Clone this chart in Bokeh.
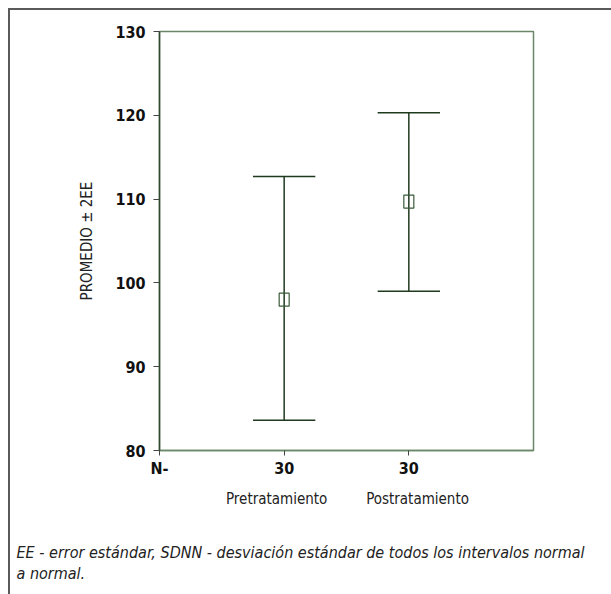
from bokeh.plotting import figure
from bokeh.models import FixedTicker, LinearAxis, Title, Range1d
from bokeh.embed import file_html
from bokeh.resources import INLINE

groups = ["Pretratamiento", "Postratamiento"]
n_values = ["30", "30"]
means = [98.0, 109.7]
upper = [112.7, 120.3]
lower = [83.6, 99.0]
y_ticks = [80, 90, 100, 110, 120, 130]
caption_lines = [
    "EE - error estándar, SDNN - desviación estándar de todos los intervalos normal",
    "a normal.",
]

FONT = "'Liberation Sans Narrow', 'Arial Narrow', 'DejaVu Sans Condensed', sans-serif"
GREEN = "#1f3a1f"
FRAME_BG = ("linear-gradient(#5a5a5a, #5a5a5a) 8px 8px / 2px calc(100% - 8px) no-repeat, "
            "linear-gradient(#5a5a5a, #5a5a5a) 8px 8px / calc(100% - 8px) 2px no-repeat, "
            "#ffffff")

xs = list(range(1, len(groups) + 1))

p = figure(width=611, height=594, output_backend="svg", toolbar_location=None,
           x_range=Range1d(0, len(groups) + 1), y_range=Range1d(80, 130),
           min_border_left=159, min_border_right=78, min_border_top=31,
           min_border_bottom=144)
p.styles = {"background": FRAME_BG}
p.border_fill_color = None
p.background_fill_color = "#ffffff"
p.grid.visible = False
p.outline_line_color = "#6a876a"
p.outline_line_width = 1.5

# error bars
cap = 0.25
p.segment(x0=xs, y0=lower, x1=xs, y1=upper, line_color=GREEN, line_width=1.5)
p.segment(x0=[x - cap for x in xs], y0=upper, x1=[x + cap for x in xs], y1=upper,
          line_color=GREEN, line_width=1.5)
p.segment(x0=[x - cap for x in xs], y0=lower, x1=[x + cap for x in xs], y1=lower,
          line_color=GREEN, line_width=1.5)
p.rect(x=xs, y=means, width=10, height=13, width_units="screen", height_units="screen",
       fill_alpha=0, line_color="#3a5a3a", line_width=1.2)

# y axis
ya = p.yaxis[0]
ya.ticker = FixedTicker(ticks=y_ticks)
ya.minor_tick_line_color = None
ya.major_tick_out = 6
ya.major_tick_in = 0
ya.major_tick_line_color = "#444444"
ya.axis_line_color = "#2f4a2f"
ya.axis_line_width = 1.5
ya.major_label_text_font = FONT
ya.major_label_text_font_style = "bold"
ya.major_label_text_font_size = "16px"
ya.major_label_text_color = "#111111"
ya.major_label_standoff = 8
ya.axis_label = "PROMEDIO ± 2EE"
ya.axis_label_text_font = FONT
ya.axis_label_text_font_style = "normal"
ya.axis_label_text_font_size = "15px"
ya.axis_label_text_color = "#222222"
ya.axis_label_standoff = 16

# x axis: N row
xa = p.xaxis[0]
xa.ticker = FixedTicker(ticks=[0] + xs)
xa.major_label_overrides = {0: "N-", **{x: n for x, n in zip(xs, n_values)}}
xa.minor_tick_line_color = None
xa.major_tick_out = 5
xa.major_tick_in = 0
xa.major_tick_line_color = "#444444"
xa.axis_line_color = "#6a876a"
xa.axis_line_width = 1.5
xa.major_label_text_font = FONT
xa.major_label_text_font_style = "bold"
xa.major_label_text_font_size = "16px"
xa.major_label_text_color = "#111111"
xa.major_label_standoff = 3

# group names row
ga = LinearAxis(ticker=FixedTicker(ticks=[0.94, 2.07]),
                major_label_overrides={0.94: groups[0], 2.07: groups[1]})
ga.axis_line_color = None
ga.major_tick_line_color = None
ga.minor_tick_line_color = None
ga.major_label_text_font = FONT
ga.major_label_text_font_size = "15px"
ga.major_label_text_color = "#222222"
ga.major_label_standoff = 3
p.add_layout(ga, "below")

# spacer + caption
p.add_layout(Title(text=" ", text_font_size="25px", standoff=0), "below")
for line in caption_lines:
    p.add_layout(Title(text=line, align="left", offset=-143, text_font=FONT,
                       text_font_style="italic", text_font_size="16px",
                       text_color="#222222", standoff=0), "below")

open("out.html", "w").write(file_html(p, INLINE))
